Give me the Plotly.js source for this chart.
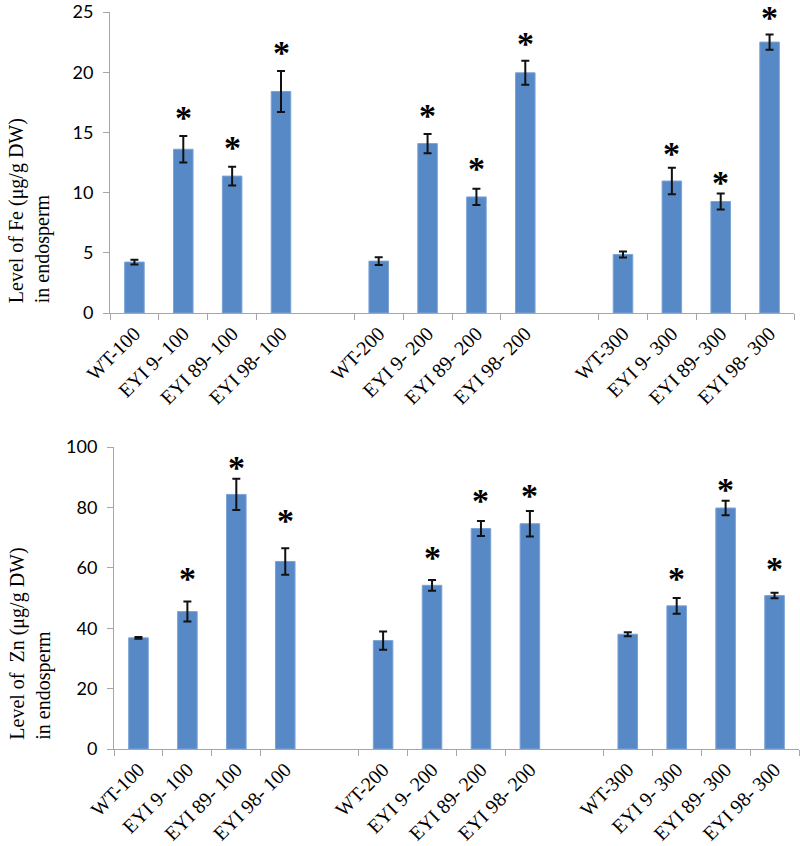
<!DOCTYPE html>
<html>
<head>
<meta charset="utf-8">
<script src="https://cdn.plot.ly/plotly-3.0.1.min.js"></script>
<style>html,body{margin:0;padding:0;background:#fff;}#chart{width:800px;height:846px;}</style>
</head>
<body>
<div id="chart"></div>
<script>
// ---- data ----
const groups = ['100', '200', '300'];
const lines = ['WT-', 'EYI 9- ', 'EYI 89- ', 'EYI 98- '];
const feValues = [4.23, 13.6, 11.37, 18.4, 4.31, 14.07, 9.64, 19.95, 4.86, 10.96, 9.26, 22.5];
const feErrors = [0.2, 1.1, 0.77, 1.7, 0.32, 0.8, 0.67, 1.0, 0.25, 1.1, 0.67, 0.63];
const feStars = [null, 16.84, 14.29, 22.25, null, 16.98, 12.55, 22.94, null, 13.87, 11.4, 25.1];
const znValues = [36.8, 45.5, 84.3, 62.1, 35.9, 54.2, 73.0, 74.6, 38.0, 47.4, 79.8, 50.8];
const znErrors = [0.3, 3.3, 5.2, 4.4, 3.0, 1.8, 2.5, 4.2, 0.7, 2.6, 2.4, 0.9];
const znStars = [null, 58.7, 95.6, 78.0, null, 65.6, 84.6, 86.2, null, 58.7, 88.4, 62.0];
const feTitle = ['Level of Fe (μg/g DW)', 'in endosperm'];
const znTitle = ['Level of  Zn (μg/g DW)', 'in endosperm'];
const feRange = [0, 25];
const znRange = [0, 100];

// build categories with a blank slot between groups
const cats = [], idx = [];
groups.forEach((g, gi) => {
  if (gi > 0) cats.push(' '.repeat(gi));
  lines.forEach(l => { idx.push(cats.length); cats.push(l + g); });
});
const labels = idx.map(i => cats[i]);
function expand(arr) {
  const out = cats.map(() => null);
  idx.forEach((ci, k) => out[ci] = arr[k]);
  return out;
}

const barColor = '#5889c7';
function barTrace(vals, errs, xa, ya) {
  return {
    type: 'bar', x: cats, y: expand(vals), xaxis: xa, yaxis: ya,
    marker: {color: barColor, line: {color: '#7aa3d6', width: 1}},
    error_y: {type: 'data', array: expand(errs), visible: true, color: '#111', thickness: 2, width: 4},
    hoverinfo: 'skip', showlegend: false, cliponaxis: false
  };
}

const annotations = [];
function addStars(stars, xr, yr, range) {
  stars.forEach((s, k) => {
    if (s === null) return;
    annotations.push({x: labels[k], y: (s - range[0]) / (range[1] - range[0]), xref: xr, yref: yr + ' domain',
      text: '<b>*</b>', showarrow: false,
      font: {family: 'Liberation Serif', size: 34, color: '#000'}, yanchor: 'middle', yshift: -7});
  });
}
addStars(feStars, 'x', 'y', feRange);
addStars(znStars, 'x2', 'y2', znRange);

function addTitle(txt, yBottom) {
  annotations.push({text: txt.join('<br>'), textangle: -90, xref: 'paper', yref: 'paper',
    x: 0.004, xanchor: 'left', y: yBottom, yanchor: 'bottom', align: 'left', showarrow: false,
    font: {family: 'Liberation Serif', size: 20, color: '#000'}});
}
addTitle(feTitle, (846 - 305) / 846);
addTitle(znTitle, (846 - 742) / 846);

const xCommon = {type: 'category', categoryorder: 'array', categoryarray: cats,
  tickson: 'boundaries', ticks: 'outside', ticklen: 6, tickcolor: '#a6a6a6',
  showline: true, linecolor: '#a6a6a6', linewidth: 1, showgrid: false, zeroline: false,
  tickangle: -45, tickfont: {family: 'Liberation Serif', size: 20, color: '#000'},
  tickvals: labels, ticktext: labels, fixedrange: true};
const yCommon = {showline: true, linecolor: '#a6a6a6', linewidth: 1, ticks: 'outside', ticklen: 6,
  tickcolor: '#a6a6a6', showgrid: false, zeroline: false, ticklabelstandoff: 6, ticklabeloverflow: 'allow',
  tickfont: {family: 'Lato', size: 18, color: '#000'}, fixedrange: true};

const layout = {
  width: 800, height: 846, margin: {l: 0, r: 0, t: 0, b: 0},
  paper_bgcolor: '#fff', plot_bgcolor: '#fff', bargap: 0.6,
  xaxis: Object.assign({}, xCommon, {domain: [110 / 800, 794 / 800], anchor: 'y'}),
  yaxis: Object.assign({}, yCommon, {domain: [(846 - 313) / 846, (846 - 12) / 846], range: feRange,
    tickmode: 'array', tickvals: [0, 5, 10, 15, 20, 25], anchor: 'x'}),
  xaxis2: Object.assign({}, xCommon, {domain: [114 / 800, 799 / 800], anchor: 'y2'}),
  yaxis2: Object.assign({}, yCommon, {domain: [(846 - 749) / 846, (846 - 447) / 846], range: znRange,
    tickmode: 'array', tickvals: [0, 20, 40, 60, 80, 100], anchor: 'x2'}),
  annotations: annotations
};

Plotly.newPlot('chart', [barTrace(feValues, feErrors, 'x', 'y'), barTrace(znValues, znErrors, 'x2', 'y2')], layout, {staticPlot: true});
</script>
</body>
</html>
